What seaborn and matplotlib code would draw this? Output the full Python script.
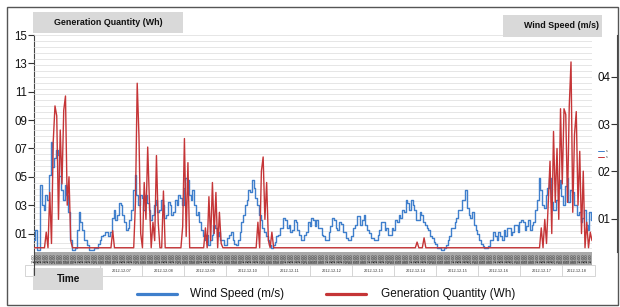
import matplotlib
matplotlib.use("Agg")
import numpy as np
import pandas as pd
import matplotlib.pyplot as plt
import matplotlib.dates as mdates
import matplotlib.transforms as mtransforms
from matplotlib.patches import Rectangle
from matplotlib.lines import Line2D
import seaborn as sns

sns.set_theme(style="white")
plt.rcParams["font.family"] = ["Liberation Sans", "DejaVu Sans"]

# ---------------- data ----------------
start_time = "2012-12-05 10:00"

# wind speed (m/s), hourly
wind_speed = [
    0.55, 0.76, 0.34, 0.34, 1.71, 1.29, 1.18, 1.50, 1.40, 1.92, 2.62, 2.10, 2.28, 2.45, 2.35, 1.90, 1.61, 1.40, 1.71, 1.50,
    1.14, 0.55, 0.34, 0.34, 0.38, 0.76, 1.14, 0.93, 0.76, 0.55, 0.55, 0.44, 0.34, 0.34, 0.34, 0.38, 0.38, 0.47, 0.55, 0.63,
    0.66, 0.72, 0.72, 0.63, 0.72, 1.01, 1.18, 0.97, 1.08, 1.33, 1.29, 1.08, 0.93, 0.76, 0.80, 0.97, 1.18, 1.61, 1.92, 1.50,
    1.29, 1.50, 1.44, 1.18, 1.50, 1.33, 1.18, 0.97, 1.08, 1.29, 1.40, 1.14, 1.18, 1.40, 1.29, 1.01, 1.08, 1.35, 1.29, 1.08,
    1.14, 1.40, 1.29, 1.50, 1.44, 1.29, 1.65, 1.86, 1.82, 1.50, 1.40, 1.61, 1.29, 1.08, 1.14, 0.93, 0.76, 0.63, 0.55, 0.66,
    0.44, 0.55, 0.66, 0.87, 0.80, 0.63, 0.72, 0.55, 0.55, 0.44, 0.44, 0.59, 0.66, 0.72, 0.55, 0.47, 0.44, 0.55, 0.72, 0.93,
    1.08, 1.29, 1.40, 1.61, 1.56, 1.82, 1.65, 1.44, 1.29, 1.08, 0.97, 0.80, 0.72, 0.63, 0.55, 0.44, 0.38, 0.44, 0.51, 0.63,
    0.66, 0.80, 0.80, 1.01, 0.97, 0.80, 0.87, 0.72, 0.76, 0.97, 0.93, 0.76, 0.66, 0.55, 0.55, 0.66, 0.72, 0.93, 0.85, 1.01,
    0.97, 0.85, 0.97, 0.80, 0.80, 0.66, 0.63, 0.55, 0.55, 0.72, 0.85, 1.01, 0.97, 0.80, 0.76, 0.93, 0.89, 0.72, 0.72, 0.59,
    0.55, 0.55, 0.63, 0.80, 0.87, 1.06, 1.06, 0.87, 0.97, 1.08, 0.87, 0.76, 0.70, 0.59, 0.59, 0.55, 0.55, 0.66, 0.76, 0.93,
    0.93, 0.76, 0.80, 0.66, 0.66, 0.80, 0.76, 0.97, 0.93, 1.08, 1.01, 1.18, 1.14, 1.40, 1.33, 1.18, 1.40, 1.29, 1.18, 0.97,
    0.97, 1.14, 1.08, 0.93, 0.87, 0.80, 0.76, 0.63, 0.59, 0.51, 0.47, 0.38, 0.38, 0.34, 0.34, 0.38, 0.44, 0.55, 0.63, 0.80,
    0.80, 0.93, 1.01, 1.18, 1.18, 1.40, 1.40, 1.61, 1.23, 1.08, 1.01, 1.14, 0.87, 0.76, 0.68, 0.55, 0.47, 0.42, 0.38, 0.38,
    0.42, 0.55, 0.55, 0.72, 0.63, 0.55, 0.72, 0.63, 0.55, 0.76, 0.63, 0.80, 0.80, 0.66, 0.72, 0.87, 0.87, 0.72, 0.93, 0.97,
    0.93, 0.76, 0.85, 0.97, 0.76, 0.87, 0.93, 1.18, 1.40, 1.86, 1.61, 1.29, 1.23, 1.50, 1.65, 1.86, 1.35, 1.18, 1.18, 1.40,
    1.65, 1.82, 1.48, 1.29, 1.69, 1.86, 1.35, 1.61, 1.56, 1.29, 1.29, 1.08, 1.14, 0.93, 1.01, 1.18, 0.87, 0.76, 1.14, 0.97,
]

# generation quantity (Wh), hourly
generation = [
    0, 0, 0, 0, 0, 0, 0, 1.1, 0, 3.9, 0.3, 7.5, 10.0, 9.3, 2.0, 8.3, 4.5, 9.7, 10.7, 3.0,
    5.0, 0.5, 0, 0, 0, 0, 0, 0, 0, 0, 0, 0, 0, 0, 0, 0, 0, 0, 0, 0,
    0, 0, 0, 0, 0, 1.2, 0, 0, 0, 0, 0, 0, 0, 0, 0, 0, 0, 0, 3.2, 11.6,
    7.9, 1.0, 0, 4.6, 2.0, 7.1, 3.2, 0, 1.8, 0.5, 6.5, 1.8, 0, 0, 4.0, 0, 0, 0, 0, 0,
    0, 0, 0, 0, 0, 1.5, 7.7, 0.8, 6.0, 0, 0, 0, 0, 0, 0, 0, 0, 0, 1.4, 0,
    3.6, 0.5, 4.6, 1.0, 3.9, 0, 2.5, 0.3, 0, 0, 0, 0, 0, 0, 0, 0, 0, 0, 0, 0,
    0, 0, 0, 0, 0, 0, 0, 0, 1.8, 0, 5.4, 6.4, 2.0, 4.6, 0.5, 0, 1.1, 0, 0, 0,
    0, 0, 0, 0, 0, 0, 0, 0, 0, 0, 0, 0, 0, 0, 0, 0, 0, 0, 0, 0,
    0, 0, 0, 0, 0, 0, 0, 0, 0, 0, 0, 0, 0, 0, 0, 0, 0, 0, 0, 0,
    0, 0, 0, 0, 0, 0, 0, 0, 0, 0, 0, 0, 0, 0, 0, 0, 0, 0, 0, 0,
    0, 0, 0, 0, 0, 0, 0, 0, 0, 0, 0, 0, 0, 0, 0, 0, 0, 0, 0, 0.4,
    0, 0, 0, 0.7, 0, 0, 0, 0, 0, 0, 0, 0, 0, 0, 0, 0, 0, 0, 0, 0,
    0, 0, 0, 0, 0, 0, 0, 0, 0, 0, 0, 0, 0, 0, 0, 0, 0, 0, 0, 0,
    0, 0, 0, 0, 0, 0, 0, 0, 0, 0, 0, 0, 0, 0, 0, 0, 0, 0, 0, 0,
    0, 0, 0, 0, 0, 0, 0, 0, 0, 0, 1.4, 0, 2.0, 0.3, 3.2, 6.1, 1.0, 8.2, 3.2, 7.0,
    2.0, 9.8, 4.5, 9.8, 9.4, 3.2, 10.0, 13.1, 2.5, 8.0, 9.6, 3.0, 6.8, 1.0, 5.4, 0, 1.8, 0, 1.1, 0.5,
]

gen_ticks = [1, 3, 5, 7, 9, 11, 13, 15]
gen_tick_labels = ["01", "03", "05", "07", "09", "11", "13", "15"]
wind_ticks = [1, 2, 3, 4]
wind_tick_labels = ["01", "02", "03", "04"]
date_labels = ["2012-12-07", "2012-12-08", "2012-12-09", "2012-12-10",
               "2012-12-11", "2012-12-12", "2012-12-13", "2012-12-14",
               "2012-12-15", "2012-12-16", "2012-12-17", "2012-12-18"]

series_names = ["Wind Speed (m/s)", "Generation Quantity (Wh)"]
title_left = "Generation Quantity (Wh)"
title_right = "Wind Speed (m/s)"
x_title = "Time"

wind_df = pd.DataFrame({
    "time": pd.date_range(start_time, periods=len(wind_speed), freq="h"),
    "wind": wind_speed,
})
gen_df = pd.DataFrame({
    "time": pd.date_range(start_time, periods=len(generation), freq="h"),
    "gen": generation,
})

BLUE = "#3f7fcc"
RED = "#c53537"

# ---------------- layout ----------------
W, H = 620, 307
def fx(px):
    return px / W
def fy(py):
    return 1 - py / H

fig = plt.figure(figsize=(6.2, 3.07), dpi=100)
fig.patch.set_facecolor("white")

ax = fig.add_axes([fx(34), fy(252), fx(592) - fx(34), fy(35) - fy(252)])
ax_w = ax.twinx()
ax_g = ax.twinx()

sns.lineplot(data=wind_df, x="time", y="wind", ax=ax_w, color=BLUE, lw=1.0,
             drawstyle="steps-mid")
sns.lineplot(data=gen_df, x="time", y="gen", ax=ax_g, color=RED, lw=1.0)

t0 = gen_df["time"].iloc[0]
t1 = t0 + pd.Timedelta(hours=319)
ax.set_xlim(t0, t1)

GEN_LIM = (-0.3, 15.0)
ax.set_ylim(*GEN_LIM)
ax_g.set_ylim(*GEN_LIM)
ax_w.set_ylim(0.30, 4.88)

ax.set_yticks(gen_ticks)
ax.set_yticklabels(gen_tick_labels)
ax.tick_params(axis="y", left=True, right=False, length=4, width=0.8,
               color="#333333", labelsize=8.3, pad=1, labelcolor="#111111")
for s in ["top", "right", "bottom"]:
    ax.spines[s].set_visible(False)
ax.spines["left"].set_color("#444444")
ax.spines["left"].set_linewidth(0.8)
ax.set_xlabel("")
ax.set_ylabel("")
ax.grid(False)

ax.xaxis.set_major_locator(mdates.HourLocator(byhour=range(0, 24, 2)))
ax.xaxis.set_major_formatter(mdates.DateFormatter("%H:%M"))
ax.tick_params(axis="x", bottom=True, length=0, labelsize=2.7, pad=1.0,
               labelrotation=90, labelcolor="#202020")
band_h = 13 / 217
ax.add_patch(Rectangle((0, -band_h), 1, band_h, transform=ax.transAxes,
                       clip_on=False, facecolor="#a9a9a9", edgecolor="none", zorder=0.1))

ax_w.set_yticks(wind_ticks)
ax_w.set_yticklabels(wind_tick_labels)
ax_w.set_yticks(np.arange(0.375, 4.88, 0.125), minor=True)
ax_w.yaxis.set_ticks_position("left")
ax_w.yaxis.set_label_position("left")
ax_w.spines["left"].set_position(("axes", (617 - 34) / 558))
for s in ["top", "right", "bottom"]:
    ax_w.spines[s].set_visible(False)
ax_w.spines["left"].set_visible(True)
ax_w.spines["left"].set_color("#444444")
ax_w.spines["left"].set_linewidth(0.8)
ax_w.tick_params(axis="y", which="major", left=True, right=False, length=4, width=0.8,
                 color="#333333", labelsize=8.3, pad=1, labelcolor="#111111")
ax_w.tick_params(axis="y", which="minor", left=False, right=False, length=0)
ax_w.grid(True, which="both", axis="y", color="#e2e2e2", lw=0.6)
ax_w.grid(False, axis="x")
ax_w.set_xlabel("")
ax_w.set_ylabel("")
ax_w.set_xlim(t0, t1)

ax_g.set_axis_off()
ax_g.set_xlim(t0, t1)

# date row
blend = mtransforms.blended_transform_factory(ax.transData, fig.transFigure)
fig.patches.append(Rectangle((fx(25), fy(276)), fx(595) - fx(25), fy(265) - fy(276),
                             transform=fig.transFigure, fill=False,
                             edgecolor="#cfcfcf", lw=0.6))
xmin_num = mdates.date2num(t0)
xmax_num = mdates.date2num(t1)
for lab in date_labels:
    d0 = mdates.date2num(pd.Timestamp(lab))
    d1 = d0 + 1.0
    a = max(d0, xmin_num)
    b = min(d1, xmax_num)
    ax.text((a + b) / 2, fy(270.5), lab, transform=blend, ha="center", va="center",
            fontsize=2.8, color="#333333", clip_on=False)
    ax.plot([d0, d0], [fy(265), fy(276)], transform=blend, color="#cfcfcf",
            lw=0.6, clip_on=False)
fig.add_artist(Line2D([fx(34), fx(34)], [fy(252), fy(275)], color="#444444", lw=0.8))

# header boxes
fig.patches.append(Rectangle((fx(33), fy(33)), fx(183) - fx(33), fy(12) - fy(33),
                             transform=fig.transFigure, facecolor="#d9d9d9", edgecolor="none"))
fig.text(fx(108), fy(22.5), title_left, ha="center", va="center", fontsize=6.4,
         fontweight="bold", color="#111111")
fig.patches.append(Rectangle((fx(503), fy(37)), fx(602) - fx(503), fy(15) - fy(37),
                             transform=fig.transFigure, facecolor="#d9d9d9", edgecolor="none"))
fig.text(fx(561), fy(25.5), title_right, ha="center", va="center", fontsize=6.4,
         fontweight="bold", color="#111111")
fig.patches.append(Rectangle((fx(33), fy(290)), fx(103) - fx(33), fy(268) - fy(290),
                             transform=fig.transFigure, facecolor="#d9d9d9", edgecolor="none"))
fig.text(fx(69), fy(279), x_title, ha="center", va="center", fontsize=7.2,
         fontweight="bold", color="#111111")

# tiny legend by the right axis
fig.add_artist(Line2D([fx(598), fx(604)], [fy(151), fy(151)], color=BLUE, lw=0.7))
fig.add_artist(Line2D([fx(598), fx(604)], [fy(157), fy(157)], color=RED, lw=0.7))
fig.text(fx(605.5), fy(151), "s", fontsize=2.5, va="center", color="#333333")
fig.text(fx(605.5), fy(157), "s", fontsize=2.5, va="center", color="#333333")

# bottom legend
fig.add_artist(Line2D([fx(137), fx(177)], [fy(294), fy(294)], color=BLUE, lw=2.3))
fig.text(fx(190), fy(294), series_names[0], ha="left", va="center", fontsize=8.5,
         color="#111111")
fig.add_artist(Line2D([fx(326), fx(366)], [fy(294), fy(294)], color=RED, lw=2.3))
fig.text(fx(381), fy(294), series_names[1], ha="left", va="center", fontsize=8.5,
         color="#111111")

fig.patches.append(Rectangle((fx(7), fy(305)), fx(618) - fx(7), fy(7) - fy(305),
                             transform=fig.transFigure, fill=False,
                             edgecolor="#555555", lw=1.0))

fig.savefig("out.png", dpi=100)
